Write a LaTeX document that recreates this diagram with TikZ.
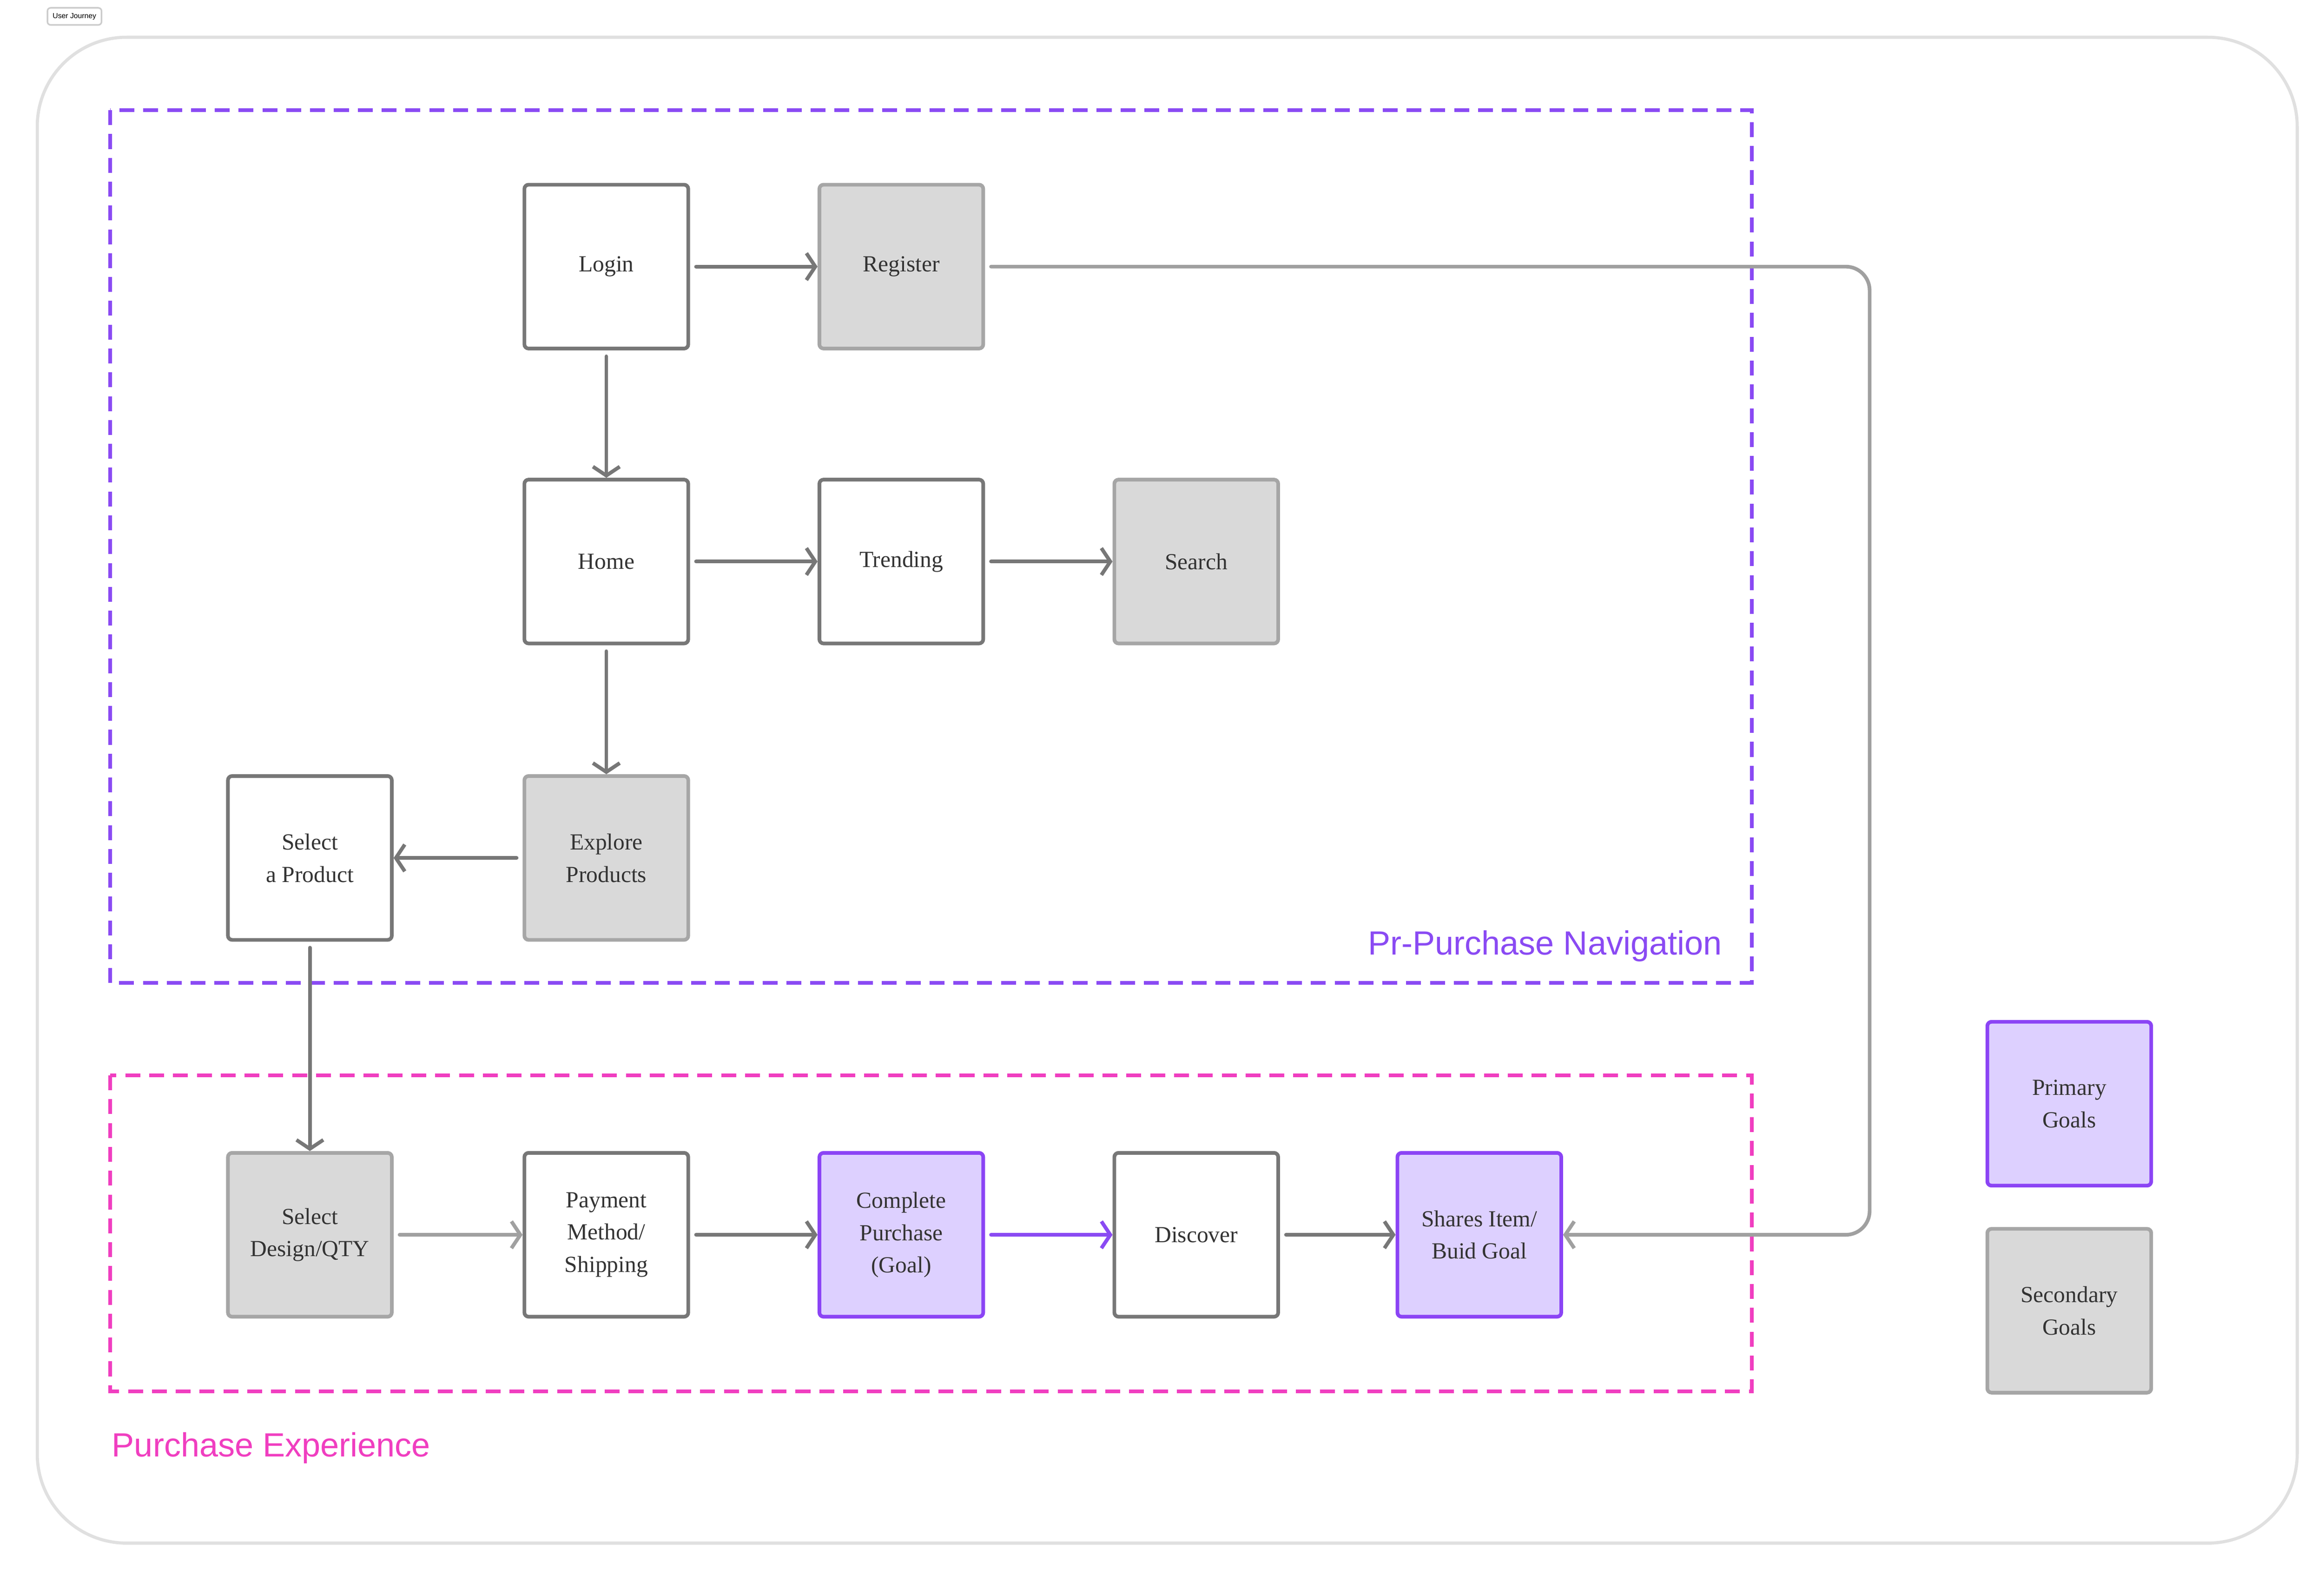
\documentclass[tikz,border=0pt]{standalone}
\usepackage{fontspec}
\setmainfont{Liberation Serif}
\newfontfamily\labelfont{Liberation Sans}
\usetikzlibrary{arrows.meta}
\definecolor{navpurple}{HTML}{8A4AF3}
\definecolor{exppink}{HTML}{F03EC0}
\definecolor{goalfill}{HTML}{DDD0FF}
\definecolor{goaldraw}{HTML}{8B44F5}
\definecolor{secfill}{HTML}{D9D9D9}
\definecolor{secdraw}{HTML}{A6A6A6}
\definecolor{boxdraw}{HTML}{777777}
\definecolor{linkgray}{HTML}{A0A0A0}
\tikzset{
    screen/.style={draw=boxdraw, line width=3.5pt, rounded corners=4pt, fill=white, minimum size=5.5cm, inner sep=0pt, align=center, text=black!80, font=\fontsize{22}{31}\selectfont},
    secondary/.style={screen, draw=secdraw, fill=secfill},
    primary/.style={screen, draw=goaldraw, fill=goalfill},
    flow/.style={draw=boxdraw, line width=3.5pt, line cap=round, -{Straight Barb[length=0.3cm,width=0.9cm,line width=3.5pt]}, shorten <=0.2cm},
    area/.style={dashed, line width=3.5pt, dash pattern=on 0.5cm off 0.3cm}}
\begin{document}
\begin{tikzpicture}[x=0.05cm,y=-0.05cm]
    \useasboundingbox (0,0) rectangle (1560,1056.5);
    % frame
    \draw[black!12, line width=3pt, rounded corners=3cm] (25,25) rectangle (1542,1036);
    \node (tag)[draw=black!20, line width=1.5pt, rounded corners=3pt, font=\labelfont\fontsize{7}{8}\selectfont, inner sep=5pt] at (50,11) {User Journey};

    % areas
    \draw[area, navpurple] (74,74) rectangle (1176,660);
    \draw[area, exppink] (74,722) rectangle (1176,934);
    \node (nav)[anchor=base east, text=navpurple, font=\labelfont\fontsize{32}{36}\selectfont, inner sep=0pt] at (1156,641) {Pr-Purchase Navigation};
    \node (exp)[anchor=base west, text=exppink, font=\labelfont\fontsize{32}{36}\selectfont, inner sep=0pt] at (75,978) {Purchase Experience};

    % screens
    \node (login)[screen] at (407,179) {Login};
    \node (register)[secondary] at (605,179) {Register};
    \node (home)[screen] at (407,377) {Home};
    \node (trending)[screen] at (605,377) {Trending};
    \node (search)[secondary] at (803,377) {Search};
    \node (product)[screen] at (208,576) {Select\\a Product};
    \node (explore)[secondary] at (407,576) {Explore\\Products};
    \node (design)[secondary] at (208,829) {Select\\Design/QTY};
    \node (payment)[screen] at (407,829) {Payment\\Method/\\Shipping};
    \node (complete)[primary] at (605,829) {Complete\\Purchase\\(Goal)};
    \node (discover)[screen] at (803,829) {Discover};
    \node (shares)[primary] at (993,829) {Shares Item/\\Buid Goal};

    % legend
    \node (lprimary)[primary] at (1389,741) {Primary\\Goals};
    \node (lsecondary)[secondary] at (1389,880) {Secondary\\Goals};

    % connectors
    \draw[flow] (login) -- (register);
    \draw[flow] (login) -- (home);
    \draw[flow] (home) -- (trending);
    \draw[flow] (trending) -- (search);
    \draw[flow] (home) -- (explore);
    \draw[flow] (explore) -- (product);
    \draw[flow] (product) -- (design);
    \draw[flow, draw=linkgray] (design) -- (payment);
    \draw[flow] (payment) -- (complete);
    \draw[flow, draw=navpurple] (complete) -- (discover);
    \draw[flow] (discover) -- (shares);
    \draw[flow, draw=linkgray, rounded corners=0.8cm] (register.east) -- (1255,179) -- (1255,829) -- (shares.east);
\end{tikzpicture}
\end{document}
